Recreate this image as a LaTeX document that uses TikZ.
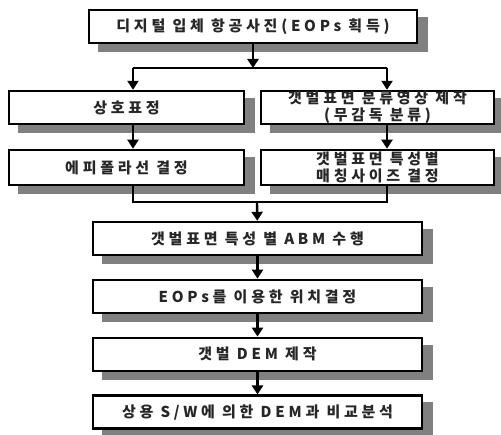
\documentclass[tikz,border=0pt]{standalone}
\usepackage{fontspec}
\newfontfamily\krfont{Noto Sans CJK KR}[LetterSpace=25]
\usepackage{tikz}
\usetikzlibrary{arrows.meta,positioning,calc,backgrounds}
\definecolor{shadegray}{RGB}{128,128,128}

\begin{document}
\begin{tikzpicture}[
  x=1pt, y=-1pt,
  box/.style={draw, line width=2.4pt, fill=white, align=center, inner sep=0pt,
    minimum height=33pt, text=black!85,
    font=\fontsize{15pt}{17pt}\selectfont\krfont\bfseries},
  boxshadow/.style={fill=shadegray, draw=none},
  line/.style={line width=2.4pt},
  arrow/.style={line, -{Triangle[width=11pt,length=9pt]}}
]
\useasboundingbox (0,0) rectangle (501,435);

% acquisition
\node[box, minimum width=328pt] (photo) at (253,26.5) {디지털 입체 항공사진(EOPs 획득)};

% two branches
\node[box, minimum width=235pt] (relor) at (126.5,107.5) {상호표정};
\node[box, minimum width=233pt] (class) at (377.5,107.5) {갯벌표면 분류영상 제작\\(무감독 분류)};
\node[box, minimum width=235pt, minimum height=35pt, below=23.5pt of relor] (epi) {에피폴라선 결정};
\node[box, minimum width=233pt, minimum height=35pt, below=23.5pt of class] (msize) {갯벌표면 특성별\\매칭사이즈 결정};

% main column
\node[box, minimum width=329pt] (abm) at (257.5,238.5) {갯벌표면 특성 별 ABM 수행};
\node[box, minimum width=329pt, below=22.5pt of abm] (pos) {EOPs를 이용한 위치결정};
\node[box, minimum width=329pt, below=22.5pt of pos] (dem) {갯벌 DEM 제작};
\node[box, minimum width=329pt, below=22.5pt of dem] (comp) {상용 S/W에 의한 DEM과 비교분석};

% shadows
\begin{scope}[on background layer]
  \foreach \nd in {photo,relor,class,epi,msize,abm,pos,dem,comp}
    \path[boxshadow] ($(\nd.north west)+(10,8)$) rectangle ($(\nd.south east)+(10,8)$);
\end{scope}

% split
\coordinate (split) at (253,68);
\coordinate (splitl) at (133,68);
\coordinate (splitr) at (387,68);
\draw[arrow] (photo) -- (split);
\draw[line] (splitl) -- (splitr);
\draw[arrow] (splitl) -- (splitl |- relor.north);
\draw[arrow] (splitr) -- (splitr |- class.north);
\draw[arrow] (splitl |- relor.south) -- (splitl |- epi.north);
\draw[arrow] (splitr |- class.south) -- (splitr |- msize.north);

% merge
\coordinate (merge) at (257,202);
\draw[line] (splitl |- epi.south) |- (merge) -| (splitr |- msize.south);
\draw[arrow] (merge) -- (abm);
\draw[arrow] (abm) -- (pos);
\draw[arrow] (pos) -- (dem);
\draw[arrow] (dem) -- (comp);
\end{tikzpicture}
\end{document}
